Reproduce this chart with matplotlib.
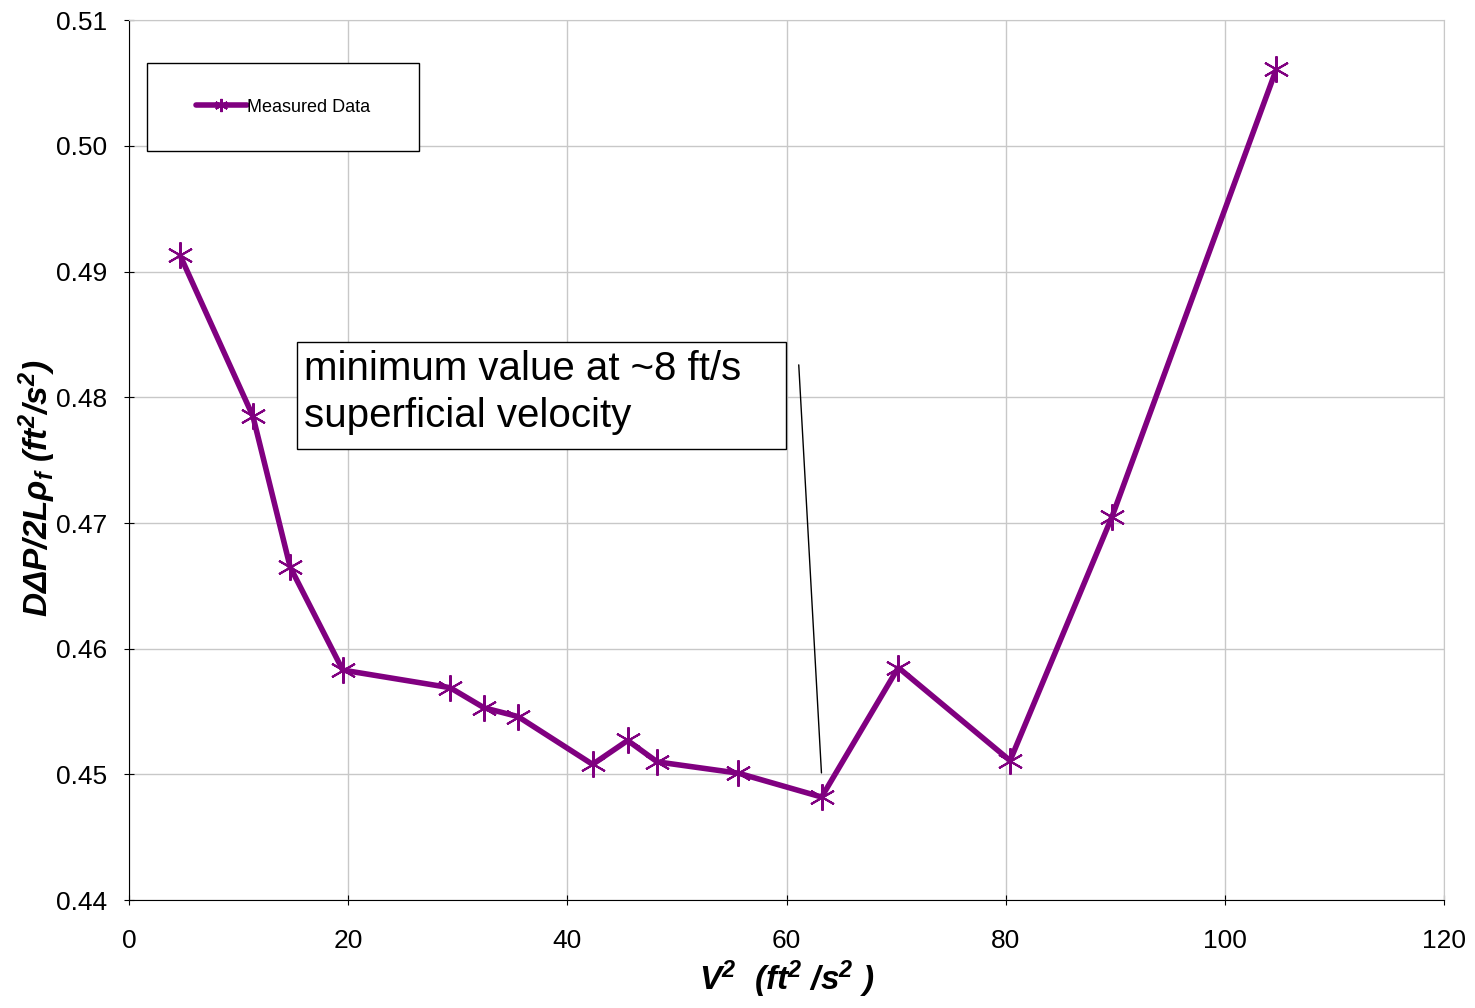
import numpy as np
import matplotlib.pyplot as plt
from matplotlib.patches import Rectangle

plt.rcParams['font.family'] = 'Liberation Sans'
plt.rcParams['mathtext.fontset'] = 'custom'
plt.rcParams['mathtext.rm'] = 'Liberation Sans:bold:italic'
plt.rcParams['mathtext.it'] = 'Liberation Sans:bold:italic'
plt.rcParams['mathtext.default'] = 'rm'

# V^2 (ft^2/s^2) and D dP / 2 L rho_f
v2 = [4.65, 11.3, 14.7, 19.5, 29.3, 32.4, 35.5, 42.3, 45.5, 48.2, 55.6, 63.2, 70.2, 80.4, 89.7, 104.7]
ratio = [0.4913, 0.4785, 0.4665, 0.4583, 0.4569, 0.4553, 0.4546, 0.4508, 0.4527, 0.4510,
         0.4501, 0.4482, 0.4585, 0.4511, 0.4705, 0.5061]

purple = '#800080'

fig = plt.figure(figsize=(14.75, 10.08), dpi=100)
ax = fig.add_axes([0.0875, 0.107, 0.8915, 0.873])

ax.plot(v2, ratio, color=purple, lw=4, marker=(6, 2, 0), ms=19, mew=1.5,
        mec=purple, label='Measured Data', solid_capstyle='round')

ax.set_xlim(0, 120)
ax.set_ylim(0.44, 0.51)
ax.set_xticks(np.arange(0, 121, 20))
ax.set_yticks(np.arange(0.44, 0.5101, 0.01))
ax.set_yticklabels(['%.2f' % v for v in np.arange(0.44, 0.5101, 0.01)])
ax.tick_params(labelsize=19, length=7, direction='inout')
ax.tick_params(axis='x', pad=17)
ax.tick_params(axis='y', pad=12)
ax.grid(True, color='#c8c8c8', lw=1)
ax.set_axisbelow(True)
for s in ['top', 'right']:
    ax.spines[s].set_color('#c8c8c8')

ax.set_xlabel(r'V$^2$  (ft$^2$ /s$^2$ )', fontsize=24, fontweight='bold', fontstyle='italic',
              labelpad=4)
ax.set_ylabel(r'D$\Delta$P/2L$\rho_f$ (ft$^2$/s$^2$)', fontsize=24, fontweight='bold',
              fontstyle='italic')
ax.yaxis.set_label_coords(-0.054, 0.468)

# legend box drawn by hand, legend itself frameless
ax.add_patch(Rectangle((0.0137, 0.851), 0.2068, 0.1, transform=ax.transAxes,
                       fc='white', ec='black', lw=1, zorder=4))
leg = ax.legend(loc='center', bbox_to_anchor=(0.117, 0.901), fontsize=13,
                handlelength=2.8, handletextpad=0.0, frameon=False, markerscale=0.5)
leg.set_zorder(5)

ax.add_patch(Rectangle((15.3, 0.4759), 44.65, 0.0085, fc='white', ec='black', lw=1, zorder=4))
ax.text(16.0, 0.4838, 'minimum value at ~8 ft/s\nsuperficial velocity', fontsize=29,
        va='top', ha='left', linespacing=1.3, zorder=5)
ax.annotate('', xy=(63.2, 0.4499), xytext=(61.1, 0.4828),
            arrowprops=dict(arrowstyle='-', color='black', lw=1))

fig.savefig('out.png', dpi=100)
